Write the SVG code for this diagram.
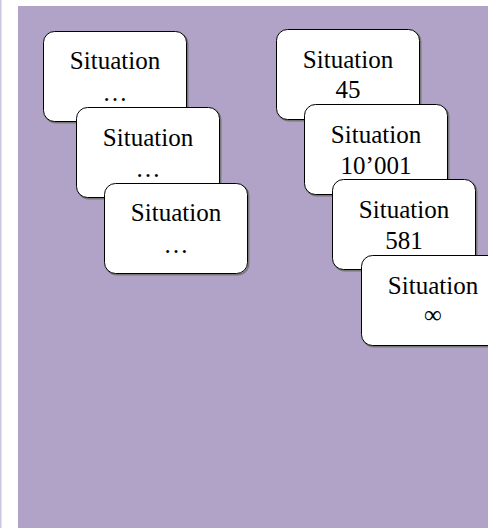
<svg xmlns="http://www.w3.org/2000/svg" width="488" height="528" viewBox="0 0 488 528">
<style>
.box{fill:#ffffff;stroke:#000000;stroke-width:1}
.sh{fill:none;stroke:#777777;stroke-width:1.5}
text{font-family:"Liberation Serif","Times New Roman",serif;font-size:25px;fill:#000000;text-anchor:middle}
</style>
<defs>
<g id="card">
<rect class="sh" x="1.2" y="1.2" width="143" height="90" rx="11"/>
<rect class="box" x="0" y="0" width="143" height="90" rx="11"/>
</g>
</defs>
<rect x="0" y="0" width="488" height="528" fill="#ffffff"/>
<rect x="0" y="0" width="1.5" height="528" fill="#cdc4df"/>
<rect x="18" y="6" width="470" height="522" fill="#b1a2c8"/>
<g id="connectors"/>
<g id="sitA" transform="translate(43.5,31.5)">
<use href="#card"/>
<text x="71.5" y="37">Situation</text>
<text x="71.5" y="69">…</text>
</g>
<g id="sitB" transform="translate(76.5,107.5)">
<use href="#card"/>
<text x="71.5" y="38">Situation</text>
<text x="71.5" y="69">…</text>
</g>
<g id="sitC" transform="translate(104.5,183.5)">
<use href="#card"/>
<text x="71.5" y="37">Situation</text>
<text x="71.5" y="69">…</text>
</g>
<g id="sit45" transform="translate(276.5,29.5)">
<use href="#card"/>
<text x="71.5" y="38">Situation</text>
<text x="71.5" y="68">45</text>
</g>
<g id="sit10001" transform="translate(304.5,104.5)">
<use href="#card"/>
<text x="71.5" y="38">Situation</text>
<text x="71.5" y="69">10’001</text>
</g>
<g id="sit581" transform="translate(332.5,179.5)">
<use href="#card"/>
<text x="71.5" y="38">Situation</text>
<text x="71.5" y="69">581</text>
</g>
<g id="sitInf" transform="translate(361.5,255.5)">
<use href="#card"/>
<text x="71.5" y="38">Situation</text>
<text x="71.5" y="67">∞</text>
</g>
</svg>
